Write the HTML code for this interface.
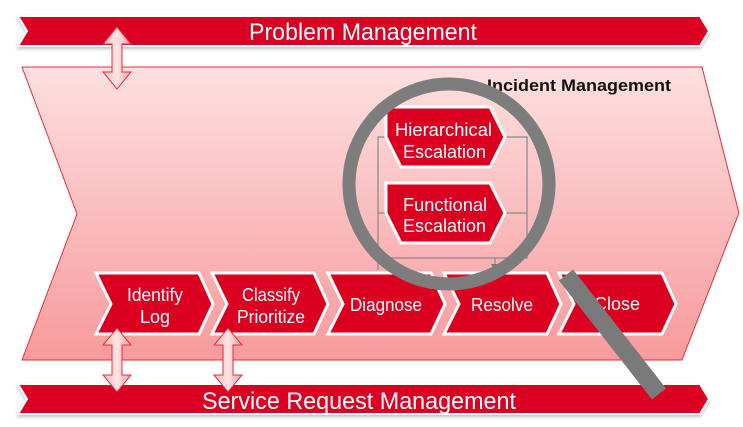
<!DOCTYPE html>
<html><head><meta charset="utf-8"><style>
html,body{margin:0;padding:0;background:#fff;}
svg{display:block;font-family:"Liberation Sans",sans-serif;}
</style></head><body>
<svg width="743" height="427" viewBox="0 0 743 427" xmlns="http://www.w3.org/2000/svg">
<defs>
<linearGradient id="bg" x1="0" y1="0" x2="0" y2="1">
<stop offset="0" stop-color="#fde0e0"/><stop offset="1" stop-color="#f79a9c"/>
</linearGradient>
<linearGradient id="ar" x1="0" y1="0" x2="1" y2="0">
<stop offset="0" stop-color="#f8b4b6"/><stop offset="0.5" stop-color="#fde6e6"/><stop offset="1" stop-color="#f49ea0"/>
</linearGradient>
<filter id="sh" x="-5%" y="-20%" width="110%" height="150%"><feDropShadow dx="0" dy="2" stdDeviation="1.5" flood-color="#000" flood-opacity="0.25"/></filter>
</defs>
<polygon points="18,16 700,16 709,31 700,46 18,46 27,31" fill="#dc0020" stroke="#fff" stroke-width="2" filter="url(#sh)"/>
<text x="249" y="40" font-size="24" fill="#fff" textLength="228" lengthAdjust="spacingAndGlyphs">Problem Management</text>
<polygon points="22,67 702,67 739,213 682,360 22,360 77,214" fill="url(#bg)" stroke="#e0303e" stroke-width="1"/>
<text x="487" y="91" font-size="17" font-weight="bold" fill="#111" textLength="184" lengthAdjust="spacingAndGlyphs">Incident Management</text>
<polygon points="18,384 700,384 709,399 700,414 18,414 27,399" fill="#dc0020" stroke="#fff" stroke-width="2" filter="url(#sh)"/>
<text x="202" y="409" font-size="24" fill="#fff" textLength="314" lengthAdjust="spacingAndGlyphs">Service Request Management</text>
<g stroke="#888" stroke-width="1.2" fill="none">
<polyline points="378,270 378,137 392,137"/>
<polyline points="378,213 392,213"/>
<polyline points="505,137 527,137 527,258 380,258"/>
<polyline points="505,213 527,213"/>
<polyline points="495,258 495,268"/>
</g>
<g fill="#777">
<polygon points="394,137 387,133 387,141"/>
<polygon points="394,213 387,209 387,217"/>
<polygon points="495,271 491,264 499,264"/>
</g>
<g stroke="#fff" stroke-width="3" fill="#dc0020">
<polygon points="386,107 490,107 505,137 490,167 401,167 386,137"/>
<polygon points="386,183 490,183 505,213 490,243 401,243 386,213"/>
</g>
<g fill="#fff" font-size="18">
<text x="395" y="136" textLength="97" lengthAdjust="spacingAndGlyphs">Hierarchical</text>
<text x="403" y="158" textLength="83" lengthAdjust="spacingAndGlyphs">Escalation</text>
<text x="403" y="211" textLength="84" lengthAdjust="spacingAndGlyphs">Functional</text>
<text x="403" y="232" textLength="83" lengthAdjust="spacingAndGlyphs">Escalation</text>
</g>
<g stroke="#fff" stroke-width="3" fill="#dc0020">
<polygon points="96,273 199,273 213,304 199,334 96,334 111,304"/>
<polygon points="212,273 314,273 328,304 314,334 212,334 227,304"/>
<polygon points="328,273 431,273 445,304 431,334 328,334 343,304"/>
<polygon points="444,273 547,273 561,304 547,334 444,334 459,304"/>
<polygon points="559,273 662,273 676,304 662,334 559,334 574,304"/>
</g>
<g fill="#fff" font-size="18" text-anchor="middle">
<text x="155" y="301" textLength="56" lengthAdjust="spacingAndGlyphs">Identify</text>
<text x="155" y="323">Log</text>
<text x="271" y="301" textLength="58" lengthAdjust="spacingAndGlyphs">Classify</text>
<text x="271" y="323" textLength="68" lengthAdjust="spacingAndGlyphs">Prioritize</text>
<text x="386" y="311" textLength="72" lengthAdjust="spacingAndGlyphs">Diagnose</text>
<text x="502" y="311" textLength="62" lengthAdjust="spacingAndGlyphs">Resolve</text>
<text x="617" y="310" textLength="46" lengthAdjust="spacingAndGlyphs">Close</text>
</g>
<g fill="url(#ar)" stroke="#e0303e" stroke-width="1">
<polygon points="117,27 131,44 122,44 122,72 131,72 117,89 103,72 112,72 112,44 103,44"/>
<polygon points="117,328 131,345 122,345 122,375 131,375 117,392 103,375 112,375 112,345 103,345"/>
<polygon points="228,328 242,345 233,345 233,375 242,375 228,392 214,375 223,375 223,345 214,345"/>
</g>
<line x1="566" y1="275" x2="659" y2="394" stroke="#7a7a7a" stroke-width="18"/>
<circle cx="449" cy="184" r="100" fill="none" stroke="#7d7d7d" stroke-width="13"/>
</svg>
</body></html>
